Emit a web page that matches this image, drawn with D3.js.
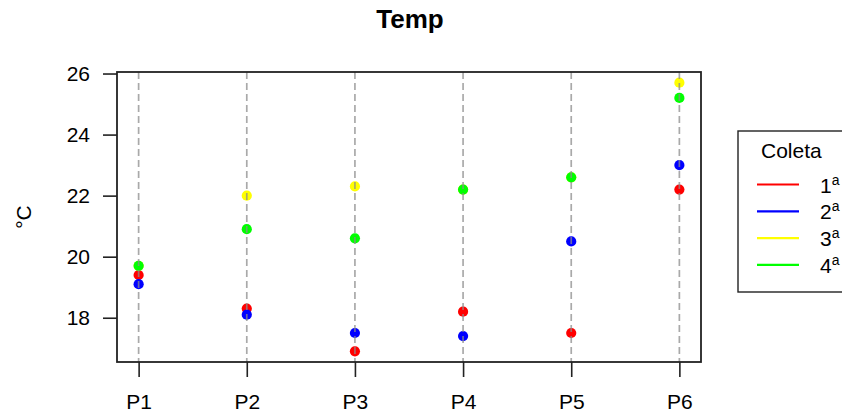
<!DOCTYPE html>
<html>
<head>
<meta charset="utf-8">
<script src="https://cdn.jsdelivr.net/npm/d3@7"></script>
<style>
    body { margin: 0; background: #fff; }
    svg { display: block; font-family: 'Liberation Sans', Arial, sans-serif; }
</style>
</head>
<body>
<div id="chart"></div>
<script>
// values
const categories = ['P1', 'P2', 'P3', 'P4', 'P5', 'P6']
const coleta1 = [19.4, 18.3, 16.9, 18.2, 17.5, 22.2]
const coleta2 = [19.1, 18.1, 17.5, 17.4, 20.5, 23.0]
const coleta3 = [19.7, 22.0, 22.3, 22.2, 22.6, 25.7]
const coleta4 = [19.7, 20.9, 20.6, 22.2, 22.6, 25.2]
const yTicks = [18, 20, 22, 24, 26]
const legendLabels = ['1', '2', '3', '4']
const colors = ['#ff0000', '#0000ff', '#ffff00', '#00ff00']

const width = 842
const height = 416
const margin = { top: 72, right: 141, bottom: 54, left: 117 }

const series = [coleta1, coleta2, coleta3, coleta4]

const svg = d3.select('#chart')
    .append('svg')
    .attr('width', width)
    .attr('height', height)

const x = d3.scalePoint()
    .domain(categories)
    .range([margin.left, width - margin.right])
    .padding(0.2)

const y = d3.scaleLinear()
    .domain([16.55, 26.05])
    .range([height - margin.bottom, margin.top])

// points
series.forEach((values, i) => {
    svg.append('g')
        .selectAll('circle')
        .data(values)
        .join('circle')
        .attr('cx', (d, j) => x(categories[j]))
        .attr('cy', d => y(d))
        .attr('r', 5.1)
        .attr('fill', colors[i])
})

// dashed guides, drawn over the points
svg.append('g')
    .selectAll('line')
    .data(categories)
    .join('line')
    .attr('x1', d => x(d))
    .attr('x2', d => x(d))
    .attr('y1', margin.top)
    .attr('y2', height - margin.bottom)
    .attr('stroke', '#8c8c8c')
    .attr('stroke-opacity', 0.75)
    .attr('stroke-width', 1.7)
    .attr('stroke-dasharray', '7 4')

// box
svg.append('rect')
    .attr('x', margin.left)
    .attr('y', margin.top)
    .attr('width', width - margin.right - margin.left)
    .attr('height', height - margin.bottom - margin.top)
    .attr('fill', 'none')
    .attr('stroke', '#222')
    .attr('stroke-width', 1.8)

// axes
const xAxis = svg.append('g')
    .attr('transform', `translate(0,${height - margin.bottom})`)
    .call(d3.axisBottom(x).tickSize(15).tickPadding(17))
const yAxis = svg.append('g')
    .attr('transform', `translate(${margin.left},0)`)
    .call(d3.axisLeft(y).tickValues(yTicks).tickSize(14).tickPadding(13))

;[xAxis, yAxis].forEach(g => {
    g.select('.domain').remove()
    g.selectAll('.tick line').attr('stroke', '#222').attr('stroke-width', 1.6)
    g.selectAll('.tick text')
        .attr('fill', '#000')
        .style('font-size', '21px')
        .style('font-family', "'Liberation Sans', Arial, sans-serif")
})

// title and y label
svg.append('text')
    .attr('x', 410)
    .attr('y', 28)
    .attr('text-anchor', 'middle')
    .style('font-size', '26px')
    .style('font-weight', 'bold')
    .attr('fill', '#000')
    .text('Temp')

svg.append('text')
    .attr('transform', 'translate(31,217) rotate(-90)')
    .attr('text-anchor', 'middle')
    .style('font-size', '21px')
    .attr('fill', '#000')
    .text('°C')

// legend
const legend = svg.append('g')
    .attr('transform', 'translate(738,131)')

legend.append('rect')
    .attr('width', 130)
    .attr('height', 161)
    .attr('fill', '#fff')
    .attr('stroke', '#222')
    .attr('stroke-width', 1.4)

legend.append('text')
    .attr('x', 23)
    .attr('y', 27)
    .style('font-size', '21px')
    .attr('fill', '#000')
    .text('Coleta')

const items = legend.selectAll('.item')
    .data(legendLabels)
    .join('g')
    .attr('class', 'item')
    .attr('transform', (d, i) => `translate(0,${53.5 + i * 26.8})`)

items.append('line')
    .attr('x1', 19)
    .attr('x2', 61)
    .attr('stroke', (d, i) => colors[i])
    .attr('stroke-width', 2.2)

const labels = items.append('text')
    .attr('x', 82)
    .attr('y', 8)
    .style('font-size', '21px')
    .attr('fill', '#000')

labels.append('tspan').text(d => d)
labels.append('tspan')
    .attr('dy', -8)
    .style('font-size', '14px')
    .text('a')
</script>
</body>
</html>
